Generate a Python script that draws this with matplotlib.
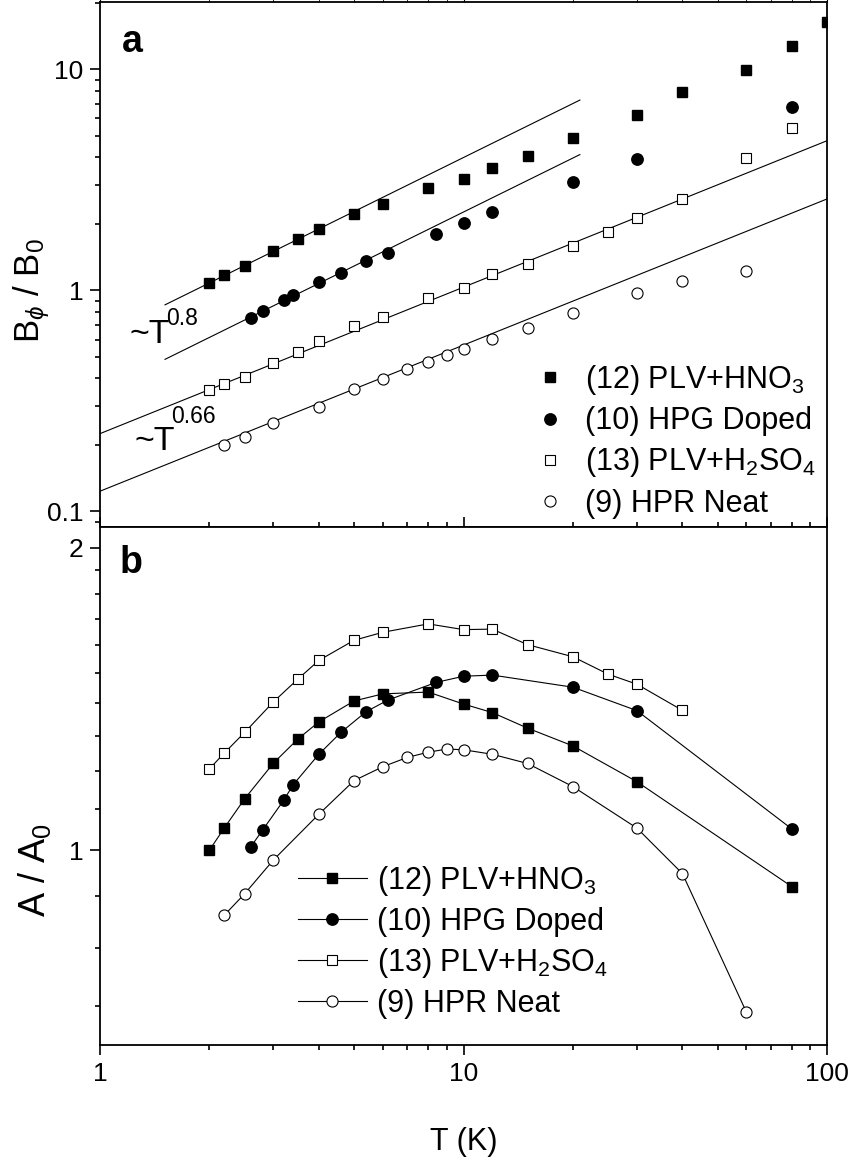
import matplotlib.pyplot as plt
import numpy as np
from matplotlib.ticker import FixedLocator, NullFormatter, FuncFormatter

plt.rcParams['font.family'] = ['Liberation Sans', 'DejaVu Sans']
plt.rcParams['mathtext.fontset'] = 'custom'
plt.rcParams['mathtext.rm'] = 'Liberation Sans'
plt.rcParams['mathtext.it'] = 'Liberation Sans:italic'
plt.rcParams['mathtext.bf'] = 'Liberation Sans:bold'

labels = ['(12) PLV+HNO$_3$', '(10) HPG Doped', '(13) PLV+H$_2$SO$_4$', '(9) HPR Neat']

# panel a : B_phi / B_0
Ta_hno3 = [2, 2.2, 2.5, 3, 3.5, 4, 5, 6, 8, 10, 12, 15, 20, 30, 40, 60, 80, 100]
Ba_hno3 = [1.08, 1.17, 1.29, 1.51, 1.71, 1.89, 2.21, 2.45, 2.91, 3.2, 3.58, 4.05, 4.9, 6.24, 7.87, 9.97, 12.8, 16.4]
Ta_hpg = [2.6, 2.8, 3.2, 3.4, 4, 4.6, 5.4, 6.2, 8.4, 10, 12, 20, 30, 80]
Ba_hpg = [0.75, 0.806, 0.907, 0.952, 1.087, 1.197, 1.362, 1.485, 1.797, 2.02, 2.27, 3.1, 3.95, 6.78]
Ta_h2so4 = [2, 2.2, 2.5, 3, 3.5, 4, 5, 6, 8, 10, 12, 15, 20, 25, 30, 40, 60, 80]
Ba_h2so4 = [0.356, 0.376, 0.406, 0.469, 0.526, 0.59, 0.693, 0.758, 0.927, 1.028, 1.19, 1.315, 1.597, 1.848, 2.12, 2.6, 3.99, 5.43]
Ta_hpr = [2.2, 2.5, 3, 4, 5, 6, 7, 8, 9, 10, 12, 15, 20, 30, 40, 60]
Ba_hpr = [0.199, 0.2175, 0.252, 0.298, 0.359, 0.396, 0.441, 0.4745, 0.51, 0.541, 0.605, 0.678, 0.793, 0.972, 1.10, 1.23]

# guide lines (end points)
fit_T08 = [1.51, 20.9]
fit_hno3 = [0.861, 7.27]
fit_hpg = [0.488, 4.12]
fit_T066 = [1, 100]
fit_h2so4 = [0.225, 4.76]
fit_hpr = [0.1235, 2.595]

# panel b : A / A_0
Tb_hno3 = [2, 2.2, 2.5, 3, 3.5, 4, 5, 6, 8, 10, 12, 15, 20, 30, 80]
Ab_hno3 = [1.0, 1.053, 1.125, 1.221, 1.29, 1.342, 1.408, 1.431, 1.437, 1.398, 1.371, 1.323, 1.27, 1.17, 0.92]
Tb_hpg = [2.6, 2.8, 3.2, 3.4, 4, 4.6, 5.4, 6.2, 8.4, 10, 12, 20, 30, 80]
Ab_hpg = [1.008, 1.047, 1.121, 1.162, 1.246, 1.31, 1.374, 1.411, 1.469, 1.49, 1.494, 1.453, 1.377, 1.05]
Tb_h2so4 = [2, 2.2, 2.5, 3, 3.5, 4, 5, 6, 8, 10, 12, 15, 20, 25, 30, 40]
Ab_h2so4 = [1.205, 1.25, 1.31, 1.405, 1.48, 1.545, 1.618, 1.648, 1.68, 1.658, 1.66, 1.602, 1.558, 1.497, 1.463, 1.378]
Tb_hpr = [2.2, 2.5, 3, 4, 5, 6, 7, 8, 9, 10, 12, 15, 20, 30, 40, 60]
Ab_hpr = [0.862, 0.905, 0.978, 1.086, 1.173, 1.211, 1.237, 1.252, 1.261, 1.259, 1.246, 1.22, 1.157, 1.052, 0.948, 0.69]

fig = plt.figure(figsize=(8.5, 11.69), dpi=100)
ax1 = fig.add_axes([0.1176, 0.5496, 0.8554, 0.4483])
ax2 = fig.add_axes([0.1176, 0.1061, 0.8554, 0.4435])

sq = dict(marker='s', color='k', ms=7.3, ls='none')
ci = dict(marker='o', color='k', ms=8.2, ls='none')
osq = dict(marker='s', color='k', mfc='white', mew=0.8, ms=7.2, ls='none')
oci = dict(marker='o', color='k', mfc='white', mew=0.8, ms=8.0, ls='none')

# ---- panel a
for T, B in [(fit_T08, fit_hno3), (fit_T08, fit_hpg), (fit_T066, fit_h2so4), (fit_T066, fit_hpr)]:
    ax1.plot(T, B, color='k', lw=0.8, zorder=1)
ax1.plot(Ta_hno3, Ba_hno3, label=labels[0], **sq)
ax1.plot(Ta_hpg, Ba_hpg, label=labels[1], **ci)
ax1.plot(Ta_h2so4, Ba_h2so4, label=labels[2], **osq)
ax1.plot(Ta_hpr, Ba_hpr, label=labels[3], **oci)

ax1.text(0.0413, 0.350, '~T', transform=ax1.transAxes, fontsize=24.5)
ax1.text(0.091, 0.384, '0.8', transform=ax1.transAxes, fontsize=16.5)
ax1.text(0.048, 0.146, '~T', transform=ax1.transAxes, fontsize=24.5)
ax1.text(0.098, 0.1975, '0.66', transform=ax1.transAxes, fontsize=16.5)
ax1.text(0.044, 0.925, 'a', transform=ax1.transAxes, fontsize=27, fontweight='bold',
         ha='center', va='center')

ax1.legend(loc='lower left', bbox_to_anchor=(0.598, 0.015), frameon=False, fontsize=22,
           handlelength=1.0, handletextpad=0.65, labelspacing=0.3, borderpad=0, borderaxespad=0)

ax1.set_xscale('log')
ax1.set_yscale('log')
ax1.set_xlim(1, 100)
ax1.set_ylim(0.0855, 20.1)
ax1.set_ylabel(r'B$_\phi$ / B$_0$', fontsize=25)
ax1.yaxis.set_label_coords(-0.066, 0.451)
ax1.yaxis.set_major_formatter(FuncFormatter(lambda v, p: '%g' % v))
ax1.yaxis.set_minor_formatter(NullFormatter())
ax1.tick_params(axis='y', which='both', direction='out', labelsize=19, width=1.2, pad=5)
ax1.tick_params(axis='y', which='major', length=7)
ax1.tick_params(axis='y', which='minor', length=3.6)
ax1.tick_params(axis='x', which='both', bottom=False, top=True, labelbottom=False, direction='out')

# ---- panel b
ax2.plot(Tb_hno3, Ab_hno3, label=labels[0], **dict(sq, ls='-', lw=0.8))
ax2.plot(Tb_hpg, Ab_hpg, label=labels[1], **dict(ci, ls='-', lw=0.8))
ax2.plot(Tb_h2so4, Ab_h2so4, label=labels[2], **dict(osq, ls='-', lw=0.8))
ax2.plot(Tb_hpr, Ab_hpr, label=labels[3], **dict(oci, ls='-', lw=0.8))
ax2.text(0.043, 0.93, 'b', transform=ax2.transAxes, fontsize=27, fontweight='bold',
         ha='center', va='center')

ax2.legend(loc='lower left', bbox_to_anchor=(0.272, 0.05), frameon=False, fontsize=22,
           handlelength=2.26, handletextpad=0.33, labelspacing=0.3, borderpad=0, borderaxespad=0)

ax2.set_xscale('log')
ax2.set_yscale('log')
ax2.set_xlim(1, 100)
ax2.set_ylim(0.64, 2.1)
ax2.set_xlabel('T (K)', fontsize=22)
ax2.xaxis.set_label_coords(0.5, -0.158)
ax2.set_ylabel('A / A$_0$', fontsize=26)
ax2.yaxis.set_label_coords(-0.064, 0.3375)
ax2.yaxis.set_major_locator(FixedLocator([1, 2]))
ax2.yaxis.set_minor_locator(FixedLocator([0.7, 0.8, 0.9, 1.1, 1.2, 1.3, 1.4, 1.5, 1.6, 1.7, 1.8, 1.9]))
ax2.yaxis.set_major_formatter(FuncFormatter(lambda v, p: '%g' % v))
ax2.yaxis.set_minor_formatter(NullFormatter())
ax2.xaxis.set_major_formatter(FuncFormatter(lambda v, p: '%g' % v))
ax2.xaxis.set_minor_formatter(NullFormatter())
ax2.tick_params(axis='both', which='both', direction='out', labelsize=19, width=1.2, pad=5)
ax2.tick_params(axis='x', which='both', top=True)
ax2.tick_params(axis='both', which='major', length=7)
ax2.tick_params(axis='both', which='minor', length=3.6)

for ax in (ax1, ax2):
    for s in ax.spines.values():
        s.set_linewidth(1.3)

plt.savefig('out.png', dpi=100)
